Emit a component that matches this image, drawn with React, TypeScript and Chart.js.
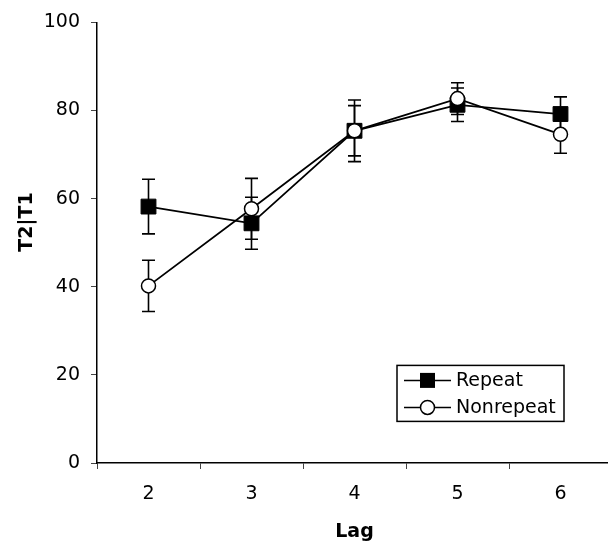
import React, { useEffect, useRef } from "react";
import { Chart, registerables } from "chart.js";

Chart.register(...registerables);

const lags = ["2", "3", "4", "5", "6"];
const repeatMeans = [58.2, 54.4, 75.4, 81.3, 79.2];
const repeatErr = [6.2, 5.9, 7.0, 3.8, 3.9];
const nonrepeatMeans = [40.2, 57.7, 75.4, 82.7, 74.6];
const nonrepeatErr = [5.8, 6.9, 5.7, 3.6, 4.3];
const yTickValues = [0, 20, 40, 60, 80, 100];
const xTitle = "Lag";
const yTitle = "T2|T1";
const seriesNames = ["Repeat", "Nonrepeat"];

const FONT = "'DejaVu Sans', Verdana, sans-serif";

const errorBarPlugin = {
  id: "errorBars",
  beforeDatasetsDraw(chart: any) {
    const ctx = chart.ctx;
    const xs = chart.scales.x;
    const ys = chart.scales.y;
    const sets = [
      { m: repeatMeans, e: repeatErr },
      { m: nonrepeatMeans, e: nonrepeatErr },
    ];
    ctx.save();
    ctx.strokeStyle = "#000";
    ctx.lineWidth = 1.6;
    sets.forEach((s) => {
      s.m.forEach((v, i) => {
        const x = xs.getPixelForValue(i);
        const yt = ys.getPixelForValue(v + s.e[i]);
        const yb = ys.getPixelForValue(v - s.e[i]);
        ctx.beginPath();
        ctx.moveTo(x, yt);
        ctx.lineTo(x, yb);
        ctx.moveTo(x - 6.5, yt);
        ctx.lineTo(x + 6.5, yt);
        ctx.moveTo(x - 6.5, yb);
        ctx.lineTo(x + 6.5, yb);
        ctx.stroke();
      });
    });
    ctx.restore();
  },
};

const decorPlugin = {
  id: "decor",
  afterDraw(chart: any) {
    const ctx = chart.ctx;
    const ca = chart.chartArea;
    ctx.save();
    ctx.fillStyle = "#000";
    ctx.font = `bold 19px ${FONT}`;
    ctx.textAlign = "center";
    ctx.textBaseline = "middle";
    ctx.fillText(xTitle, (ca.left + ca.right) / 2, 532);
    ctx.save();
    ctx.translate(27, 222);
    ctx.rotate(-Math.PI / 2);
    ctx.fillText(yTitle, 0, 0);
    ctx.restore();

    const lx = ca.left + 300;
    const ly = ca.top + 343;
    const lw = 167;
    const lh = 56;
    ctx.fillStyle = "#fff";
    ctx.fillRect(lx, ly, lw, lh);
    ctx.strokeStyle = "#000";
    ctx.lineWidth = 1.5;
    ctx.strokeRect(lx, ly, lw, lh);
    const rows = [ly + 15, ly + 42];
    rows.forEach((ry, i) => {
      ctx.strokeStyle = "#000";
      ctx.lineWidth = 1.5;
      ctx.beginPath();
      ctx.moveTo(lx + 7, ry);
      ctx.lineTo(lx + 54, ry);
      ctx.stroke();
      if (i === 0) {
        ctx.fillStyle = "#000";
        ctx.fillRect(lx + 30.5 - 7.5, ry - 7.5, 15, 15);
      } else {
        ctx.beginPath();
        ctx.arc(lx + 30.5, ry, 7, 0, Math.PI * 2);
        ctx.fillStyle = "#fff";
        ctx.fill();
        ctx.stroke();
      }
      ctx.fillStyle = "#000";
      ctx.font = `19px ${FONT}`;
      ctx.textAlign = "left";
      ctx.textBaseline = "middle";
      ctx.fillText(seriesNames[i], lx + 59, ry + 1);
    });
    ctx.restore();
  },
};

export default function App() {
  const ref = useRef<HTMLCanvasElement>(null);
  useEffect(() => {
    if (!ref.current) return;
    const chart = new Chart(ref.current, {
      type: "line",
      data: {
        labels: lags,
        datasets: [
          {
            label: seriesNames[0],
            data: repeatMeans,
            borderColor: "#000",
            backgroundColor: "#000",
            borderWidth: 1.8,
            pointStyle: "rect",
            pointRadius: 10.5,
            pointBorderWidth: 1,
            pointBackgroundColor: "#000",
            pointBorderColor: "#000",
            order: 1,
            tension: 0,
          },
          {
            label: seriesNames[1],
            data: nonrepeatMeans,
            borderColor: "#000",
            backgroundColor: "#fff",
            borderWidth: 1.8,
            pointStyle: "circle",
            pointRadius: 7,
            pointBorderWidth: 1.5,
            pointBackgroundColor: "#fff",
            pointBorderColor: "#000",
            order: 0,
            tension: 0,
          },
        ],
      },
      options: {
        animation: false,
        responsive: false,
        devicePixelRatio: 1,
        layout: { autoPadding: false, padding: { top: 20, left: 0, right: 1, bottom: 0 } },
        plugins: { legend: { display: false }, tooltip: { enabled: false } },
        scales: {
          x: {
            type: "category",
            offset: true,
            grid: {
              display: true,
              drawOnChartArea: false,
              drawTicks: true,
              tickLength: 6,
              color: "#444",
              lineWidth: 1,
              offset: true,
            },
            border: { display: true, color: "#000", width: 1.5 },
            ticks: {
              color: "#000",
              font: { family: FONT, size: 19 },
              padding: 14,
              maxRotation: 0,
            },
            afterFit: (s: any) => {
              s.height = 78;
            },
          },
          y: {
            min: 0,
            max: 100,
            afterBuildTicks: (s: any) => {
              s.ticks = yTickValues.map((v) => ({ value: v }));
            },
            grid: {
              display: true,
              drawOnChartArea: false,
              drawTicks: true,
              tickLength: 6,
              color: "#444",
              lineWidth: 1,
            },
            border: { display: true, color: "#000", width: 1.5 },
            ticks: {
              color: "#000",
              font: { family: FONT, size: 19 },
              padding: 11,
            },
            afterFit: (s: any) => {
              s.width = 97;
            },
          },
        },
      },
      plugins: [errorBarPlugin, decorPlugin],
    });
    return () => chart.destroy();
  }, []);
  return (
    <div
      style={{
        position: "fixed",
        left: 0,
        top: 0,
        width: 608,
        height: 541,
        overflow: "hidden",
        background: "#fff",
      }}
    >
      <canvas ref={ref} width={613} height={541} style={{ display: "block" }} />
    </div>
  );
}
